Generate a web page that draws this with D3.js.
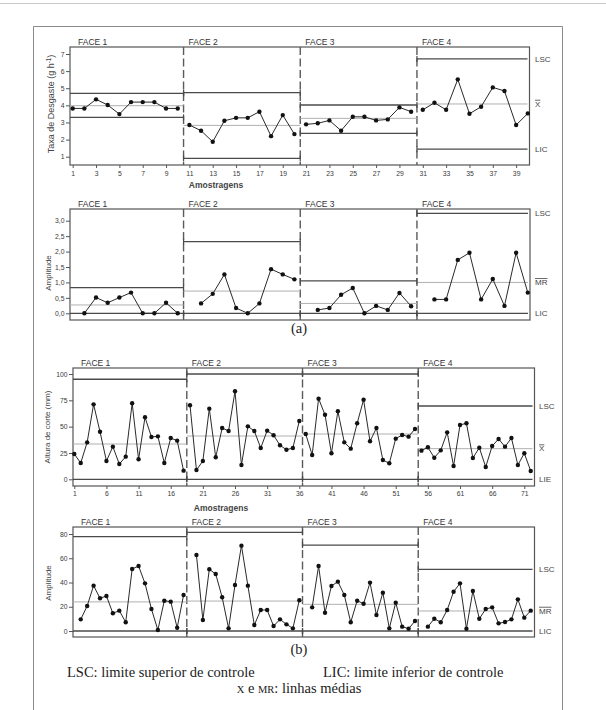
<!DOCTYPE html>
<html><head><meta charset="utf-8">
<script src="https://cdn.jsdelivr.net/npm/d3@7"></script>
<style>
body{margin:0;background:#fff;}
</style></head><body>
<svg id="chart" width="606" height="710"></svg>
<script>
// ---------- data ----------
const faces = ["FACE 1", "FACE 2", "FACE 3", "FACE 4"];

// (a) Taxa de desgaste (individual values), 10 samples per face
const taxaDesgaste = [3.82, 3.82, 4.35, 4.02, 3.49, 4.19, 4.19, 4.19, 3.82, 3.82,
  2.85, 2.52, 1.87, 3.10, 3.27, 3.27, 3.63, 2.20, 3.43, 2.32,
  2.89, 2.95, 3.12, 2.52, 3.33, 3.33, 3.12, 3.18, 3.88, 3.63,
  3.74, 4.15, 3.74, 5.52, 3.51, 3.92, 5.05, 4.84, 2.85, 3.53];
const lscTaxa = [4.70, 4.74, 4.02, 6.71];
const meanTaxa = [3.98, 2.83, 3.24, 4.08];
const licTaxa = [3.30, 0.90, 2.36, 1.44];

// (a) Amplitude (moving range)
const amplitudeA = [null, 0.00, 0.51, 0.34, 0.51, 0.67, 0.00, 0.00, 0.34, 0.00,
  null, 0.32, 0.63, 1.26, 0.17, 0.00, 0.32, 1.43, 1.26, 1.10,
  null, 0.11, 0.17, 0.60, 0.82, 0.00, 0.24, 0.11, 0.66, 0.23,
  null, 0.45, 0.45, 1.73, 1.96, 0.45, 1.11, 0.24, 1.96, 0.67];
const lscAmpA = [0.83, 2.32, 1.05, 3.24];
const meanAmpA = [0.27, 0.72, 0.32, 1.00];
const licAmpA = [0, 0, 0, 0];

const ticksTaxaX = [1, 3, 5, 7, 9, 11, 13, 15, 17, 19, 21, 23, 25, 27, 29, 31, 33, 35, 37, 39];
const ticksTaxaY = [1, 2, 3, 4, 5, 6, 7];
const ticksAmpAY = [0, 0.5, 1.0, 1.5, 2.0, 2.5, 3.0];

// (b) Altura de corte (individual values), 18 samples per face
const alturaCorte = [24.0, 15.5, 35.1, 71.2, 45.2, 17.4, 31.0, 14.5, 21.5, 72.2, 19.0, 58.9, 40.2, 40.8, 15.5, 39.2, 36.7, 8.2,
  70.3, 8.8, 17.4, 67.1, 20.9, 48.7, 45.9, 83.6, 13.6, 50.3, 45.9, 29.7, 46.2, 41.8, 32.3, 28.1, 29.7, 55.4,
  43.0, 23.1, 76.6, 61.3, 24.7, 64.6, 35.1, 29.1, 53.2, 75.6, 36.1, 48.7, 18.3, 15.2, 38.6, 42.1, 40.5, 47.8,
  27.2, 30.4, 20.5, 27.5, 44.6, 12.6, 51.6, 53.2, 20.2, 30.0, 11.7, 31.6, 38.3, 31.0, 39.2, 13.6, 24.7, 7.9];
const lscAltura = [95.0, 100.0, 100.0, 69.6];
const meanAltura = [33.5, 41.1, 43.0, 29.1];
const licAltura = [0, 0, 0, 0];

// (b) Amplitude (moving range)
const amplitudeB = [null, 9.6, 20.6, 37.4, 27.0, 28.9, 14.6, 16.8, 7.2, 51.1, 53.6, 39.3, 18.1, 0.8, 25.0, 24.2, 2.7, 29.7,
  null, 62.7, 9.1, 50.9, 47.0, 27.8, 2.2, 37.9, 70.4, 37.4, 4.9, 17.3, 17.3, 4.1, 9.6, 5.5, 2.2, 25.3,
  null, 19.5, 53.6, 15.1, 37.1, 40.7, 29.7, 7.2, 25.0, 22.5, 39.9, 13.2, 31.6, 2.2, 23.4, 3.6, 1.9, 8.2,
  null, 3.6, 10.1, 7.2, 17.3, 32.4, 39.3, 1.9, 33.0, 10.1, 18.1, 19.5, 6.3, 7.4, 9.6, 26.1, 11.0, 16.8];
const lscAmpB = [77.8, 81.4, 70.9, 50.9];
const meanAmpB = [24.0, 24.7, 22.0, 16.5];
const licAmpB = [0, 0, 0, 0];

const ticksAlturaX = [1, 6, 11, 16, 21, 26, 31, 36, 41, 46, 51, 56, 61, 66, 71];
const ticksAlturaY = [0, 25, 50, 75, 100];
const ticksAmpBY = [0, 20, 40, 60, 80];

// ---------- drawing ----------
const svg = d3.select("#chart");
const SANS = "Liberation Sans, Arial, sans-serif";
const SERIF = "Liberation Serif, Times New Roman, serif";
const TXT = "#3a3a3a", AX = "#555";

svg.append("line").attr("x1", 0).attr("x2", 606).attr("y1", 3.5).attr("y2", 3.5)
  .attr("stroke", "#c8c8c8").attr("stroke-width", 1);
svg.append("path").attr("d", "M33.5,712 V26.5 H562.5 V712")
  .attr("fill", "none").attr("stroke", "#8a8a8a").attr("stroke-width", 1);

const commaFmt = d => d3.format(".1f")(d).replace(".", ",");

function panel(cfg) {
  const {values, lsc, mean, lic, per, x, y, f} = cfg;
  const g = svg.append("g").style("font-family", SANS);

  const ya = g.append("g").attr("transform", `translate(${f.x0},0)`)
    .call(d3.axisLeft(y).tickValues(cfg.yTicks).tickSize(4).tickPadding(1.5)
      .tickFormat(cfg.yFmt || d3.format("d")));
  ya.select(".domain").remove();
  ya.selectAll("line").attr("stroke", AX);
  ya.selectAll("text").attr("font-size", 6.8).attr("fill", TXT).attr("font-family", SANS);

  if (cfg.xTicks) {
    const xa = g.append("g").attr("transform", `translate(0,${f.y1})`)
      .call(d3.axisBottom(x).tickValues(cfg.xTicks).tickSize(3).tickPadding(cfg.xPad || 3));
    xa.select(".domain").remove();
    xa.selectAll("line").attr("stroke", AX);
    xa.selectAll("text").attr("font-size", 6.8).attr("fill", TXT).attr("font-family", SANS);
  }

  g.append("rect").attr("x", f.x0).attr("y", f.y0)
    .attr("width", f.x1 - f.x0).attr("height", f.y1 - f.y0)
    .attr("fill", "none").attr("stroke", AX).attr("stroke-width", 1.2);

  const bounds = [0, 1, 2, 3].map(k => {
    const a = k === 0 ? f.x0 : x(k * per + 0.5);
    const b = k === 3 ? f.x1 - 2 : x((k + 1) * per + 0.5);
    return [a, b];
  });
  [1, 2, 3].forEach(k => {
    g.append("line").attr("x1", bounds[k][0]).attr("x2", bounds[k][0])
      .attr("y1", f.y0).attr("y2", f.y1)
      .attr("stroke", "#5a5a5a").attr("stroke-width", 1.4)
      .attr("stroke-dasharray", "8,3.5");
  });

  bounds.forEach(([a, b], k) => {
    g.append("line").attr("x1", a).attr("x2", b)
      .attr("y1", y(mean[k])).attr("y2", y(mean[k]))
      .attr("stroke", "#b0b0b0").attr("stroke-width", 1);
  });
  [lsc, lic].forEach(arr => {
    bounds.forEach(([a, b], k) => {
      const yy = y(arr[k]);
      g.append("line").attr("x1", a).attr("x2", b).attr("y1", yy).attr("y2", yy)
        .attr("stroke", "#4a4a4a").attr("stroke-width", 1.3);
      const caps = [];
      if (k > 0) caps.push(a);
      if (k < 3) caps.push(b);
      caps.forEach(xx => {
        g.append("line").attr("x1", xx).attr("x2", xx).attr("y1", yy - 3).attr("y2", yy + 3)
          .attr("stroke", "#4a4a4a").attr("stroke-width", 1.2);
      });
    });
  });

  const line = d3.line().defined(d => d.v != null).x(d => x(d.i)).y(d => y(d.v));
  for (let k = 0; k < 4; k++) {
    const pts = values.slice(k * per, (k + 1) * per).map((v, j) => ({i: k * per + j + 1, v}));
    g.append("path").datum(pts).attr("d", line)
      .attr("fill", "none").attr("stroke", "#2a2a2a").attr("stroke-width", 1);
    g.selectAll(null).data(pts.filter(d => d.v != null)).enter().append("circle")
      .attr("cx", d => x(d.i)).attr("cy", d => y(d.v)).attr("r", 2.2).attr("fill", "#111");
  }

  faces.forEach((t, k) => {
    g.append("text").attr("x", k === 0 ? f.x0 + 8 : bounds[k][0] + 5).attr("y", f.y0 - 2.5)
      .attr("font-size", 8.5).attr("fill", "#333").text(t);
  });

  cfg.right.forEach(r => {
    g.append("text").attr("x", cfg.rx).attr("y", y(r.v)).attr("dy", "0.35em")
      .attr("font-size", 8).attr("fill", "#444")
      .style("text-decoration", r.over ? "overline" : null).text(r.t);
  });

  const yl = g.append("text")
    .attr("transform", `translate(${cfg.yl.x},${cfg.yl.y}) rotate(-90)`)
    .attr("text-anchor", "middle").attr("dy", "0.35em")
    .attr("font-size", cfg.yl.size).attr("fill", "#444");
  cfg.yl.parts.forEach(p => {
    const ts = yl.append("tspan").text(p.t);
    if (p.sup) ts.attr("baseline-shift", "super").attr("font-size", cfg.yl.size * 0.7);
  });

  if (cfg.amostra) {
    g.append("text").attr("x", cfg.amostra.x).attr("y", cfg.amostra.y)
      .attr("text-anchor", "middle").attr("font-size", 8.5).attr("font-weight", "bold")
      .attr("fill", "#444").text("Amostragens");
  }
}

const xA = d3.scaleLinear().domain([1, 40]).range([72.7, 527.8]);
const xB = d3.scaleLinear().domain([1, 71]).range([74.3, 524.3]);

panel({
  values: taxaDesgaste, lsc: lscTaxa, mean: meanTaxa, lic: licTaxa, per: 10,
  x: xA, y: d3.scaleLinear().domain([1, 7]).range([156.7, 54]),
  f: {x0: 70, x1: 529.5, y0: 47, y1: 165},
  yTicks: ticksTaxaY, xTicks: ticksTaxaX, xPad: 3,
  rx: 535,
  right: [{t: "LSC", v: lscTaxa[3]}, {t: "X", v: meanTaxa[3], over: true}, {t: "LIC", v: licTaxa[3]}],
  yl: {x: 51, y: 104, size: 9, parts: [{t: "Taxa de Desgaste (g h"}, {t: "-1", sup: true}, {t: ")"}]},
  amostra: {x: 216, y: 187.5}
});

panel({
  values: amplitudeA, lsc: lscAmpA, mean: meanAmpA, lic: licAmpA, per: 10,
  x: xA, y: d3.scaleLinear().domain([0, 3]).range([313.3, 220.7]),
  f: {x0: 70, x1: 530, y0: 209, y1: 320},
  yTicks: ticksAmpAY, yFmt: commaFmt,
  rx: 535,
  right: [{t: "LSC", v: lscAmpA[3]}, {t: "MR", v: meanAmpA[3], over: true}, {t: "LIC", v: licAmpA[3]}],
  yl: {x: 48, y: 273, size: 8, parts: [{t: "Amplitude"}]}
});

panel({
  values: alturaCorte, lsc: lscAltura, mean: meanAltura, lic: licAltura, per: 18,
  x: xB, y: d3.scaleLinear().domain([0, 100]).range([479.3, 374]),
  f: {x0: 73, x1: 534.5, y0: 368, y1: 486},
  yTicks: ticksAlturaY, xTicks: ticksAlturaX, xPad: 2.5,
  rx: 539,
  right: [{t: "LSC", v: lscAltura[3]}, {t: "X", v: meanAltura[3], over: true}, {t: "LIE", v: licAltura[3]}],
  yl: {x: 47, y: 427, size: 8, parts: [{t: "Altura de corte (mm)"}]},
  amostra: {x: 221, y: 511}
});

panel({
  values: amplitudeB, lsc: lscAmpB, mean: meanAmpB, lic: licAmpB, per: 18,
  x: xB, y: d3.scaleLinear().domain([0, 80]).range([631, 534]),
  f: {x0: 73, x1: 534.5, y0: 527, y1: 637},
  yTicks: ticksAmpBY,
  rx: 539,
  right: [{t: "LSC", v: lscAmpB[3]}, {t: "MR", v: meanAmpB[3], over: true}, {t: "LIC", v: licAmpB[3]}],
  yl: {x: 48, y: 583, size: 8, parts: [{t: "Amplitude"}]}
});

// captions (serif)
function cap(x, y, anchor) {
  return svg.append("text").attr("x", x).attr("y", y).attr("text-anchor", anchor)
    .style("font-family", SERIF).attr("font-size", 14.5).attr("fill", "#222");
}
cap(299, 333, "middle").text("(a)");
cap(299, 654, "middle").text("(b)");
cap(67, 677, "start").text("LSC: limite superior de controle");
cap(323, 677, "start").text("LIC: limite inferior de controle");
const leg = cap(299, 693, "middle");
leg.append("tspan").attr("font-size", 10.5).text("X");
leg.append("tspan").text(" e ");
leg.append("tspan").attr("font-size", 10.5).text("MR");
leg.append("tspan").text(": linhas médias");
</script>
</body></html>
